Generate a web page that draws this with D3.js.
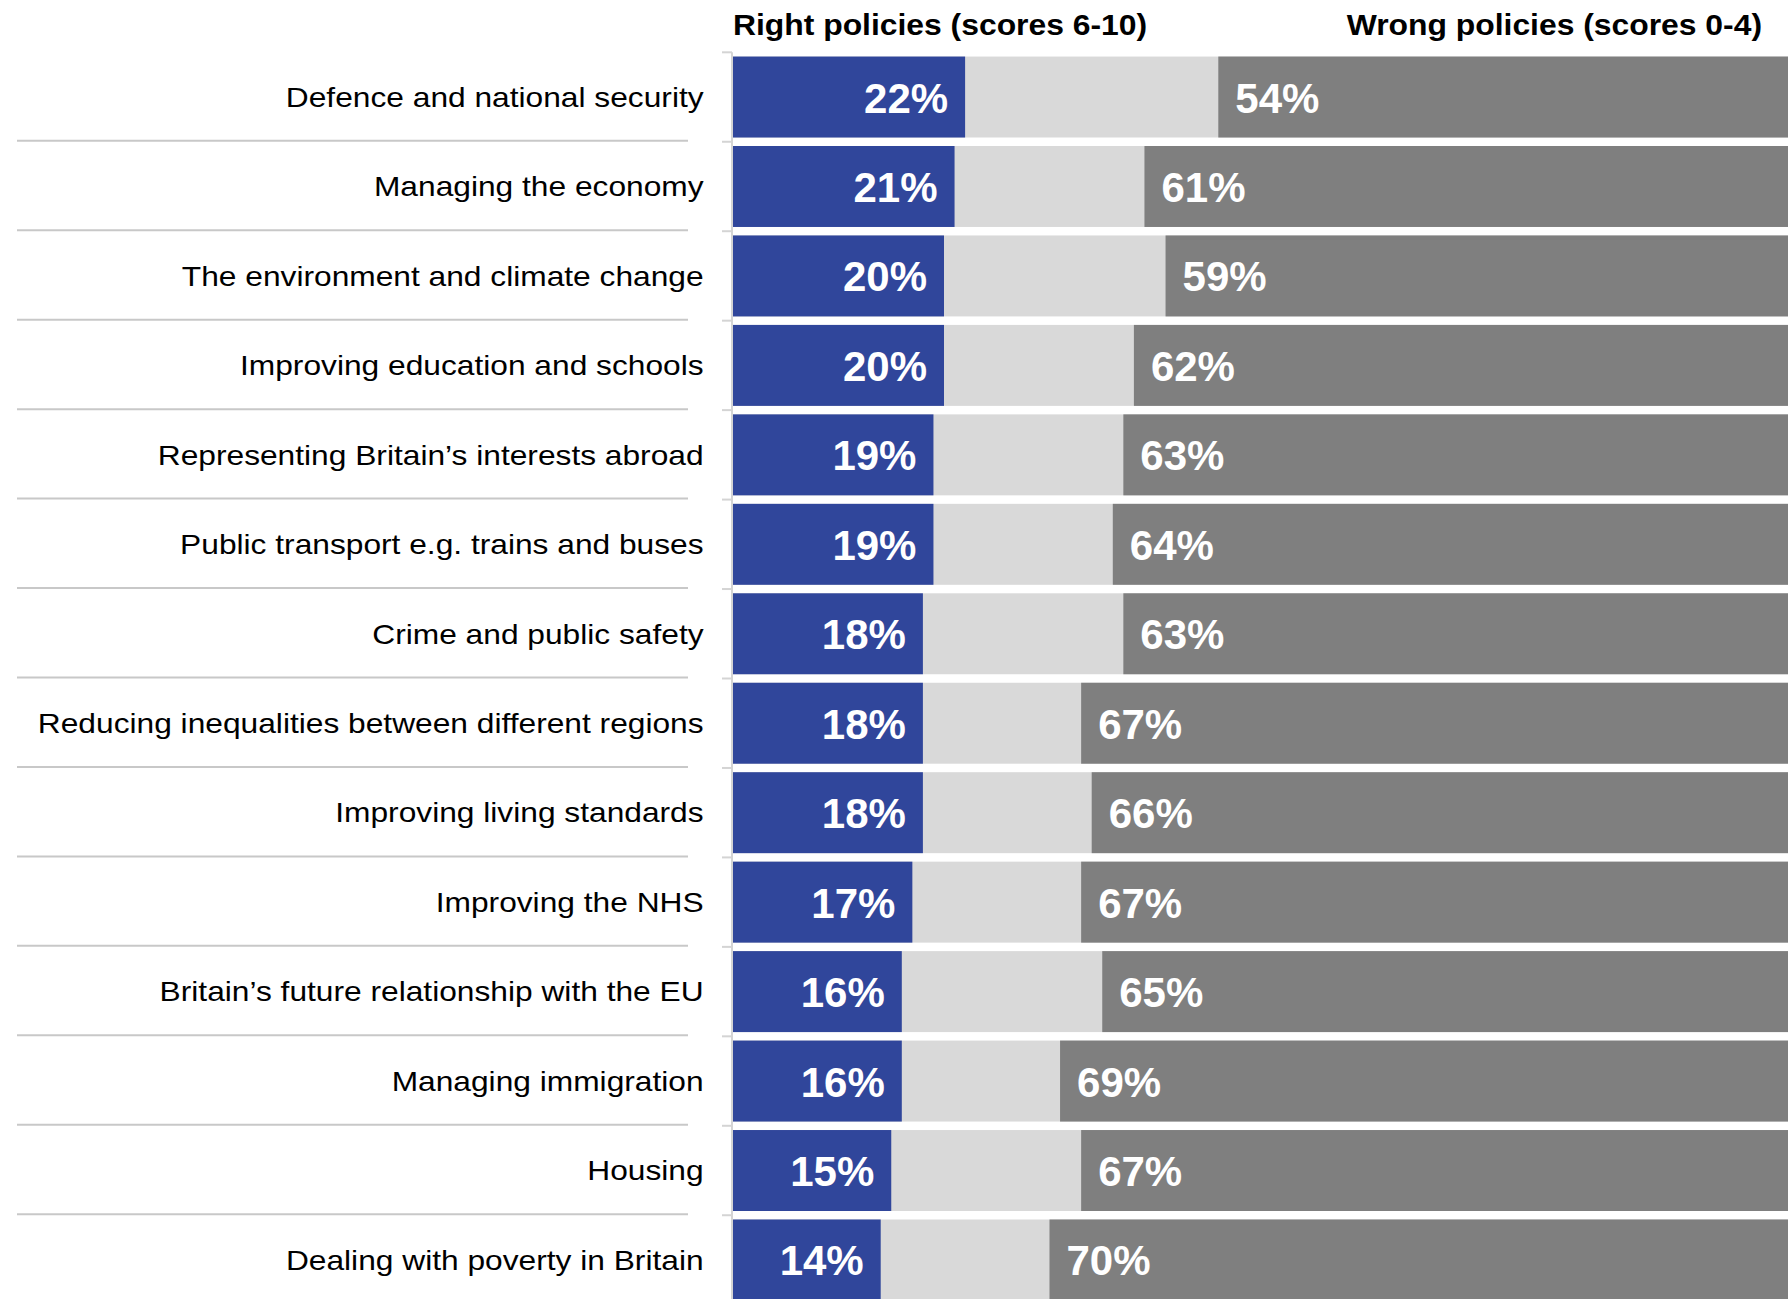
<!DOCTYPE html>
<html>
<head>
<meta charset="utf-8">
<script src="https://cdn.jsdelivr.net/npm/d3@7"></script>
<style>
  body { margin: 0; background: #fff; }
  text { font-family: "Liberation Sans", Arial, sans-serif; }
</style>
</head>
<body>
<svg></svg>
<script>
var width = 1788;
var height = 1299;

var categories = [
  "Defence and national security",
  "Managing the economy",
  "The environment and climate change",
  "Improving education and schools",
  "Representing Britain\u2019s interests abroad",
  "Public transport e.g. trains and buses",
  "Crime and public safety",
  "Reducing inequalities between different regions",
  "Improving living standards",
  "Improving the NHS",
  "Britain\u2019s future relationship with the EU",
  "Managing immigration",
  "Housing",
  "Dealing with poverty in Britain"
];
var rightValues = [22, 21, 20, 20, 19, 19, 18, 18, 18, 17, 16, 16, 15, 14];
var wrongValues = [54, 61, 59, 62, 63, 64, 63, 67, 66, 67, 65, 69, 67, 70];
var headers = ["Right policies (scores 6-10)", "Wrong policies (scores 0-4)"];

var rows = categories.map(function(c, i){
  return {name: c, right: rightValues[i], wrong: wrongValues[i]};
});

var svg = d3.select("svg")
            .attr("width", width)
            .attr("height", height);

var x = d3.scaleLinear().domain([0, 100]).range([733, 1788]);
var y = d3.scaleBand()
          .domain(categories)
          .range([52.3, 1304.7])
          .paddingInner(0.095)
          .paddingOuter(0.0475);

var half = y.step() * y.paddingInner() / 2;

// separators on the left
svg.selectAll("line.sep")
   .data(categories.slice(0, -1))
   .enter()
   .append("line")
   .attr("class", "sep")
   .attr("x1", 17)
   .attr("x2", 688)
   .attr("y1", d => y(d) + y.bandwidth() + half - 1)
   .attr("y2", d => y(d) + y.bandwidth() + half - 1)
   .attr("stroke", "#c8c8c8")
   .attr("stroke-width", 2);

// axis line with ticks at band edges
svg.append("line")
   .attr("x1", 732).attr("x2", 732)
   .attr("y1", y.range()[0]).attr("y2", height)
   .attr("stroke", "#d4d4d4")
   .attr("stroke-width", 2);

svg.selectAll("line.tick")
   .data(categories)
   .enter()
   .append("line")
   .attr("class", "tick")
   .attr("x1", 722)
   .attr("x2", 732)
   .attr("y1", d => y(d) - half)
   .attr("y2", d => y(d) - half)
   .attr("stroke", "#d4d4d4")
   .attr("stroke-width", 2);

// bars
var g = svg.selectAll("g.row")
           .data(rows)
           .enter()
           .append("g")
           .attr("class", "row")
           .attr("transform", d => "translate(0," + y(d.name) + ")");

g.append("rect")
 .attr("x", x(0))
 .attr("width", d => x(100) - x(0))
 .attr("height", y.bandwidth())
 .attr("fill", "#d9d9d9");

g.append("rect")
 .attr("x", d => x(100 - d.wrong))
 .attr("width", d => x(100) - x(100 - d.wrong))
 .attr("height", y.bandwidth())
 .attr("fill", "#7f7f7f");

g.append("rect")
 .attr("x", x(0))
 .attr("width", d => x(d.right) - x(0))
 .attr("height", y.bandwidth())
 .attr("fill", "#30469b");

// value labels
g.append("text")
 .attr("x", d => x(d.right) - 17)
 .attr("y", y.bandwidth() / 2 + 15.5)
 .attr("text-anchor", "end")
 .attr("font-size", 42)
 .attr("font-weight", "bold")
 .attr("fill", "#fff")
 .text(d => d.right + "%");

g.append("text")
 .attr("x", d => x(100 - d.wrong) + 17)
 .attr("y", y.bandwidth() / 2 + 15.5)
 .attr("font-size", 42)
 .attr("font-weight", "bold")
 .attr("fill", "#fff")
 .text(d => d.wrong + "%");

// category labels (source text is a bit stretched sideways)
g.append("text")
 .attr("transform", "translate(703.6," + (y.bandwidth() / 2 + 9.8) + ") scale(1.133,1)")
 .attr("text-anchor", "end")
 .attr("font-size", 28)
 .attr("fill", "#000")
 .text(d => d.name);

// headers
svg.append("text")
   .attr("transform", "translate(733,35) scale(1.08,1)")
   .attr("font-size", 29.5)
   .attr("font-weight", "bold")
   .attr("fill", "#000")
   .text(headers[0]);

svg.append("text")
   .attr("transform", "translate(1762,35) scale(1.08,1)")
   .attr("text-anchor", "end")
   .attr("font-size", 29.5)
   .attr("font-weight", "bold")
   .attr("fill", "#000")
   .text(headers[1]);
</script>
</body>
</html>
